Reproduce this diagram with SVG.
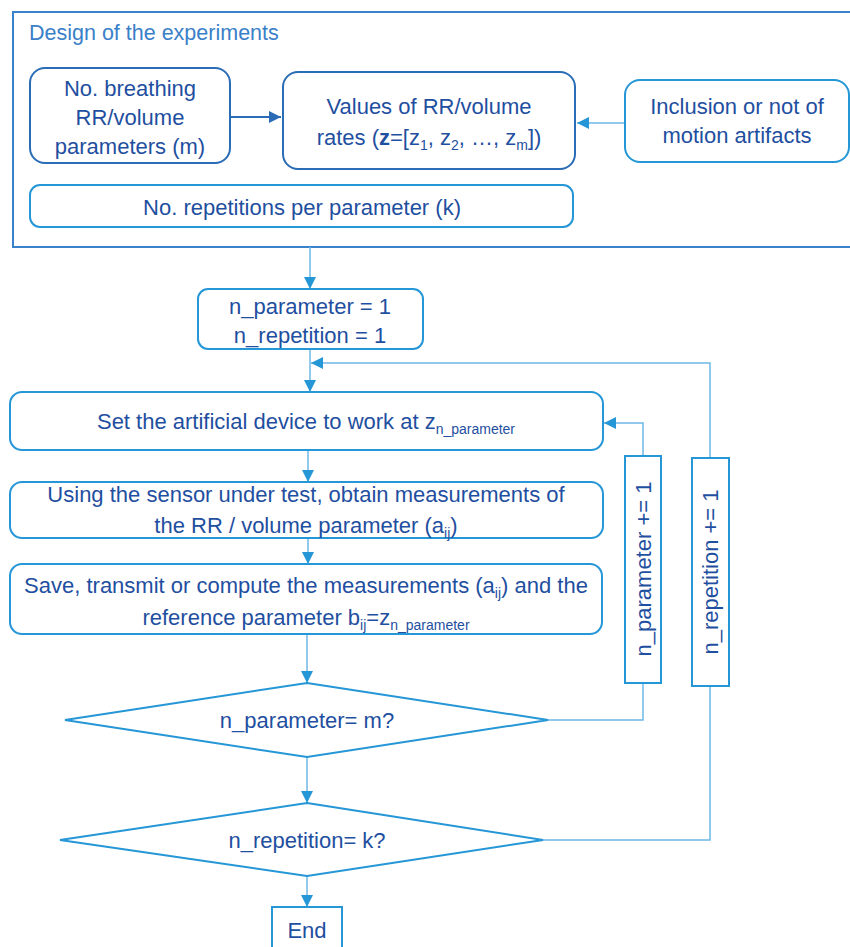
<svg xmlns="http://www.w3.org/2000/svg" width="850" height="947" viewBox="0 0 850 947">
<defs>
<style>
text{font-family:"Liberation Sans",Arial,sans-serif;fill:#1F4FA0;font-size:22px;text-anchor:middle}
.title{fill:#3A80C8;text-anchor:start;font-size:21.5px}
.dk{fill:#fff;stroke:#2A6CB5;stroke-width:2}
.lt{fill:#fff;stroke:#2596D6;stroke-width:2}
.frame{fill:none;stroke:#3A82CC;stroke-width:2}
.con{fill:none;stroke:#6CB8E6;stroke-width:1.5}
.sub{font-size:14px}
</style>
<marker id="ah" viewBox="0 0 10 10" refX="10" refY="5" markerWidth="12" markerHeight="12" markerUnits="userSpaceOnUse" orient="auto">
<path d="M0,0 L10,5 L0,10 z" fill="#2596D6"/>
</marker>
<marker id="ahd" viewBox="0 0 10 10" refX="10" refY="5" markerWidth="12" markerHeight="12" markerUnits="userSpaceOnUse" orient="auto">
<path d="M0,0 L10,5 L0,10 z" fill="#2A6CB5"/>
</marker>
</defs>
<rect width="850" height="947" fill="#fff"/>

<g id="design">
<rect class="frame" x="13" y="12" width="850" height="235"/>
<text class="title" x="29" y="40">Design of the experiments</text>
</g>

<g id="connectors">
<line x1="230" y1="117" x2="281" y2="117" stroke="#2A6CB5" stroke-width="2" marker-end="url(#ahd)"/>
<line class="con" x1="625" y1="123" x2="577" y2="123" marker-end="url(#ah)"/>
<line class="con" x1="310" y1="247" x2="310" y2="289" marker-end="url(#ah)"/>
<line class="con" x1="310" y1="349" x2="310" y2="392" marker-end="url(#ah)"/>
<polyline class="con" points="710,458 710,363 311,363" marker-end="url(#ah)"/>
<polyline class="con" points="643,456 643,423 604,423" marker-end="url(#ah)"/>
<line class="con" x1="308" y1="450" x2="308" y2="482" marker-end="url(#ah)"/>
<line class="con" x1="308" y1="538" x2="308" y2="564" marker-end="url(#ah)"/>
<line class="con" x1="307" y1="634" x2="307" y2="683" marker-end="url(#ah)"/>
<line class="con" x1="307" y1="757" x2="307" y2="803" marker-end="url(#ah)"/>
<line class="con" x1="307" y1="876" x2="307" y2="907" marker-end="url(#ah)"/>
<polyline class="con" points="548,720 643,720 643,683"/>
<polyline class="con" points="543,840 710,840 710,686"/>
</g>

<g id="n_params">
<rect class="dk" x="30" y="68" width="200" height="95" rx="15"/>
<text x="130" y="96">No. breathing</text>
<text x="130" y="125">RR/volume</text>
<text x="130" y="154">parameters (m)</text>
</g>

<g id="values">
<rect class="dk" x="283" y="72" width="292" height="97" rx="15"/>
<text x="429" y="114">Values of RR/volume</text>
<text x="429" y="145">rates (<tspan font-weight="bold">z</tspan>=[z<tspan class="sub" dy="5">1</tspan><tspan dy="-5">,  z</tspan><tspan class="sub" dy="5">2</tspan><tspan dy="-5">, …, z</tspan><tspan class="sub" dy="5">m</tspan><tspan dy="-5">])</tspan></text>
</g>

<g id="motion">
<rect class="lt" x="625" y="80" width="224" height="82" rx="15"/>
<text x="737" y="114">Inclusion or not of</text>
<text x="737" y="143">motion artifacts</text>
</g>

<g id="repetitions">
<rect class="lt" x="30" y="185" width="543" height="42" rx="10"/>
<text x="302" y="215">No. repetitions per parameter (k)</text>
</g>

<g id="init">
<rect class="lt" x="198" y="289" width="225" height="60" rx="10"/>
<text x="310" y="314">n_parameter = 1</text>
<text x="310" y="343">n_repetition = 1</text>
</g>

<g id="set_device">
<rect class="lt" x="10" y="392" width="593" height="58" rx="12"/>
<text x="306" y="429">Set the artificial device to work at z<tspan class="sub" dy="5">n_parameter</tspan></text>
</g>

<g id="measure">
<rect class="lt" x="10" y="482" width="593" height="56" rx="12"/>
<text x="306" y="502">Using the sensor under test, obtain measurements of</text>
<text x="306" y="533">the RR / volume parameter (a<tspan class="sub" dy="5">ij</tspan><tspan dy="-5">)</tspan></text>
</g>

<g id="save">
<rect class="lt" x="10" y="564" width="592" height="70" rx="12"/>
<text x="306" y="593">Save, transmit or compute the measurements (a<tspan class="sub" dy="5">ij</tspan><tspan dy="-5">) and the</tspan></text>
<text x="306" y="625">reference parameter b<tspan class="sub" dy="5">ij</tspan><tspan dy="-5">=z</tspan><tspan class="sub" dy="5">n_parameter</tspan></text>
</g>

<g id="inc_param">
<rect class="lt" x="625" y="456" width="36" height="227"/>
<text transform="translate(651,569) rotate(-90)" x="0" y="0">n_parameter += 1</text>
</g>

<g id="inc_rep">
<rect class="lt" x="692" y="458" width="37" height="228"/>
<text transform="translate(718,572) rotate(-90)" x="0" y="0">n_repetition += 1</text>
</g>

<g id="dec_param">
<polygon class="lt" points="307,683 548,720 307,757 65,720"/>
<text x="307" y="728">n_parameter= m?</text>
</g>

<g id="dec_rep">
<polygon class="lt" points="307,803 543,840 307,876 60,840"/>
<text x="307" y="848">n_repetition= k?</text>
</g>

<g id="end">
<rect class="lt" x="272" y="907" width="70" height="50"/>
<text x="307" y="938">End</text>
</g>
</svg>
